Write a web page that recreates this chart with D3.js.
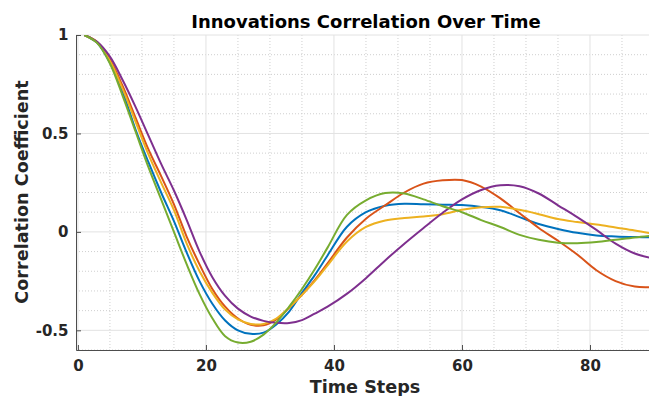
<!DOCTYPE html>
<html lang="en">
<head>
  <meta charset="UTF-8">
  <title>Innovations Correlation Over Time</title>
  <style>
    body {
      margin: 0;
      background: white;
      font-family: "DejaVu Sans", sans-serif;
    }
    .axis text {
      font-size: 15px;
      font-weight: bold;
      fill: #262626;
      font-family: "DejaVu Sans", sans-serif;
    }
    .axis path, .axis line {
      stroke: #4d4d4d;
    }
  </style>
</head>
<body>

<svg width="649" height="396"></svg>

<script src="https://d3js.org/d3.v7.min.js"></script>
<script>

// time steps sampled along the curves
let steps = [1, 3, 5, 7, 9, 11, 13, 15, 17, 19, 21, 23, 25, 27, 29, 31, 33, 35, 37, 39,
             42, 45, 48, 51, 54, 57, 60, 63, 66, 69, 72, 75, 78, 81, 84, 87, 90];

// correlation values, one array per line
let blue   = [1.0, 0.96, 0.86, 0.71, 0.52, 0.355, 0.2, 0.055, -0.105, -0.25, -0.365, -0.45, -0.5, -0.518, -0.512, -0.47, -0.405, -0.31, -0.22, -0.12,
              0.025, 0.1, 0.133, 0.143, 0.14, 0.138, 0.136, 0.127, 0.11, 0.075, 0.04, 0.015, -0.005, -0.018, -0.023, -0.026, -0.028];
let orange = [1.0, 0.965, 0.875, 0.74, 0.58, 0.42, 0.283, 0.14, -0.025, -0.165, -0.29, -0.38, -0.44, -0.472, -0.475, -0.445, -0.385, -0.32, -0.245, -0.16,
              -0.03, 0.067, 0.135, 0.2, 0.245, 0.262, 0.263, 0.23, 0.17, 0.095, 0.02, -0.045, -0.115, -0.195, -0.25, -0.278, -0.28];
let yellow = [1.0, 0.962, 0.868, 0.725, 0.56, 0.395, 0.25, 0.11, -0.06, -0.2, -0.31, -0.395, -0.445, -0.468, -0.468, -0.44, -0.385, -0.32, -0.25, -0.17,
              -0.05, 0.025, 0.058, 0.07, 0.078, 0.09, 0.112, 0.125, 0.127, 0.112, 0.09, 0.065, 0.05, 0.037, 0.022, 0.007, -0.01];
let purple = [1.0, 0.965, 0.89, 0.77, 0.635, 0.49, 0.345, 0.21, 0.06, -0.1, -0.23, -0.325, -0.39, -0.43, -0.452, -0.462, -0.463, -0.448, -0.415, -0.38,
              -0.315, -0.235, -0.145, -0.06, 0.02, 0.097, 0.165, 0.213, 0.237, 0.232, 0.195, 0.135, 0.075, 0.01, -0.06, -0.11, -0.135];
let green  = [1.0, 0.96, 0.855, 0.69, 0.51, 0.33, 0.165, 0.0, -0.165, -0.316, -0.439, -0.53, -0.562, -0.558, -0.522, -0.46, -0.38, -0.29, -0.19, -0.08,
              0.085, 0.16, 0.197, 0.195, 0.165, 0.13, 0.1, 0.06, 0.025, -0.015, -0.04, -0.055, -0.058, -0.052, -0.04, -0.028, -0.018];

let seriesList = [blue, orange, yellow, purple, green];
let colors = ["#0072BD", "#D95319", "#EDB120", "#7E2F8E", "#77AC30"];

let xTicks = [0, 20, 40, 60, 80];
let yTicks = [-0.5, 0, 0.5, 1];

// axes box (right side runs a little past the window)
let boxLeft = 76, boxRight = 654, boxTop = 35, boxBottom = 350;

let svg = d3.select("svg");

let x = d3.scaleLinear().domain([-0.3, 90]).range([boxLeft, boxRight]);
let y = d3.scaleLinear().domain([-0.6, 1]).range([boxBottom, boxTop]);

// minor grid, dotted
let xMinor = d3.range(5, 90, 5).filter(d => d % 20 != 0);
let yMinor = d3.range(-6, 10).map(d => d / 10).filter(d => Math.abs(d * 2 - Math.round(d * 2)) > 0.01);

let grid = svg.append("g");

grid.selectAll(".xminor")
    .data(xMinor)
    .enter()
    .append("line")
    .attr("x1", d => x(d)).attr("x2", d => x(d))
    .attr("y1", boxTop).attr("y2", boxBottom)
    .attr("stroke", "#cfcfcf")
    .attr("stroke-dasharray", "1,2");

grid.selectAll(".yminor")
    .data(yMinor)
    .enter()
    .append("line")
    .attr("x1", boxLeft).attr("x2", boxRight)
    .attr("y1", d => y(d)).attr("y2", d => y(d))
    .attr("stroke", "#cfcfcf")
    .attr("stroke-dasharray", "1,2");

// major grid, solid
grid.selectAll(".xmajor")
    .data(xTicks)
    .enter()
    .append("line")
    .attr("x1", d => x(d)).attr("x2", d => x(d))
    .attr("y1", boxTop).attr("y2", boxBottom)
    .attr("stroke", "#e2e2e2");

grid.selectAll(".ymajor")
    .data(yTicks)
    .enter()
    .append("line")
    .attr("x1", boxLeft).attr("x2", boxRight)
    .attr("y1", d => y(d)).attr("y2", d => y(d))
    .attr("stroke", "#e2e2e2");

// lines, clipped to the axes box
svg.append("clipPath")
    .attr("id", "plotclip")
    .append("rect")
    .attr("x", boxLeft).attr("y", boxTop)
    .attr("width", boxRight - boxLeft).attr("height", boxBottom - boxTop);

let line = d3.line()
    .x((d, i) => x(steps[i]))
    .y(d => y(d))
    .curve(d3.curveCatmullRom.alpha(0.5));

svg.append("g")
    .attr("clip-path", "url(#plotclip)")
    .selectAll("path")
    .data(seriesList)
    .enter()
    .append("path")
    .attr("d", line)
    .attr("fill", "none")
    .attr("stroke", (d, i) => colors[i])
    .attr("stroke-width", 2);

// axes with inward ticks
svg.append("g")
    .attr("class", "axis")
    .attr("transform", "translate(0," + boxBottom + ")")
    .call(d3.axisBottom(x).tickValues(xTicks).tickSizeInner(-5).tickSizeOuter(0).tickPadding(10));

svg.append("g")
    .attr("class", "axis")
    .attr("transform", "translate(" + boxLeft + ",0)")
    .call(d3.axisLeft(y).tickValues(yTicks).tickFormat(d => String(d)).tickSizeInner(-5).tickSizeOuter(0).tickPadding(7.5));

// title and labels
svg.append("text")
    .attr("x", 366)
    .attr("y", 28)
    .attr("text-anchor", "middle")
    .attr("font-size", "18px")
    .attr("font-weight", "bold")
    .attr("fill", "#000")
    .text("Innovations Correlation Over Time");

svg.append("text")
    .attr("x", 365)
    .attr("y", 393)
    .attr("text-anchor", "middle")
    .attr("font-size", "17.6px")
    .attr("font-weight", "bold")
    .attr("fill", "#262626")
    .text("Time Steps");

svg.append("text")
    .attr("transform", "translate(28,192) rotate(-90)")
    .attr("text-anchor", "middle")
    .attr("font-size", "17.6px")
    .attr("font-weight", "bold")
    .attr("fill", "#262626")
    .text("Correlation Coefficient");

</script>

</body>
</html>
